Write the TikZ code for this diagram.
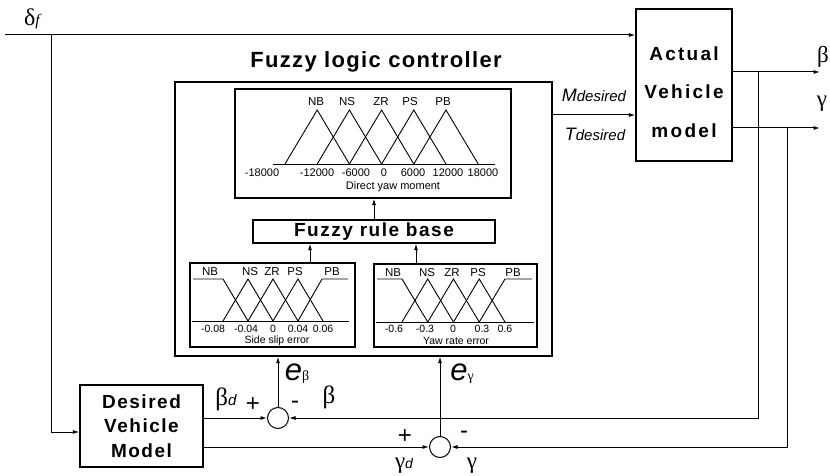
\documentclass[tikz,border=0pt]{standalone}
\usepackage{fontspec}
\setmainfont{Liberation Sans}
\newfontfamily\grk{Liberation Serif}
\usetikzlibrary{arrows.meta}
\newcommand\myfs[1]{\fontsize{#1}{#1}\selectfont}
\begin{document}
\begin{tikzpicture}[x=1pt,y=-1pt,
  arr/.style={line width=1pt,-{Latex[length=6.5pt,width=4pt]}},
  blk/.style={draw,line width=1.3pt,inner sep=0pt},
  mf/.style={line width=0.9pt},
  sum/.style={draw,circle,line width=1pt,minimum size=21pt,inner sep=0pt},
  tx/.style={inner sep=0pt},
  mfl/.style={inner sep=0pt,font=\myfs{11.5}},
  tick/.style={inner sep=0pt,font=\myfs{11}},
  stick/.style={inner sep=0pt,font=\myfs{10.5}},
]
\useasboundingbox (0,0) rectangle (830,476);

% ---------- blocks ----------
\node[blk,minimum width=377pt,minimum height=274pt] (flc) at (363.5,219) {};
\node[tx,font={\myfs{22}\addfontfeatures{LetterSpace=6}\bfseries}] (ttl) at (376,62) {Fuzzy logic controller};
\node[blk,minimum width=276pt,minimum height=109pt] (tmf) at (373,143.5) {};
\node[blk,minimum width=242pt,minimum height=23pt,font={\myfs{19}\addfontfeatures{LetterSpace=8}\bfseries}] (rb) at (374,231.5) {Fuzzy rule base};
\node[blk,minimum width=165pt,minimum height=84pt] (lmf) at (272.5,305) {};
\node[blk,minimum width=163pt,minimum height=83pt] (rmf) at (455.5,305.5) {};
\node[blk,minimum width=123pt,minimum height=82pt,align=center,
      font={\fontsize{19}{24.5}\selectfont\addfontfeatures{LetterSpace=8}\bfseries}] (dvm) at (141.5,426) {Desired\\Vehicle\\Model};
\node[blk,minimum width=96pt,minimum height=152pt] (avm) at (684,85) {};
\node[tx,align=center,font={\fontsize{19}{38.5}\selectfont\addfontfeatures{LetterSpace=12}\bfseries}] (avmt) at (684,92) {Actual\\Vehicle\\model};
\node[sum] (s1) at (278,418) {};
\node[sum] (s2) at (440,447) {};

% ---------- top membership functions ----------
\draw[mf] (273,164) -- (495,164);
\foreach \k in {0,...,4}
  \draw[mf] ({285+32.2*\k},164) -- ({317.2+32.2*\k},110) -- ({349.4+32.2*\k},164);
\foreach \t/\x [count=\i] in {NB/316,NS/347,ZR/381,PS/410,PB/443}
  \node[mfl] (ta\i) at (\x,102) {\t};
\foreach \t/\x [count=\i] in {-18000/262,-12000/317,-6000/356,0/384,6000/413,12000/448,18000/483}
  \node[tick] (tt\i) at (\x,173) {\t};
\node[tick] (dym) at (393,187) {Direct yaw moment};

% ---------- side slip membership functions ----------
\draw[mf] (192,321) -- (349,321);
\draw[mf] (193,279) -- (223,279) -- (248,321);
\foreach \k in {0,1,2}
  \draw[mf] ({223+25*\k},321) -- ({248+25*\k},279) -- ({273+25*\k},321);
\draw[mf] (298,321) -- (322,279) -- (348,279);
\foreach \t/\x [count=\i] in {NB/210,NS/250,ZR/272,PS/295,PB/332}
  \node[mfl] (la\i) at (\x,272) {\t};
\foreach \t/\x [count=\i] in {-0.08/213,-0.04/246,0/273,0.04/298,0.06/323}
  \node[stick] (lt\i) at (\x,328.5) {\t};
\node[stick] (sse) at (277,340.5) {Side slip error};

% ---------- yaw rate membership functions ----------
\draw[mf] (376,322) -- (534,322);
\draw[mf] (377,279) -- (402,279) -- (427.75,322);
\draw[mf] (402,322) -- (427.75,279) -- (453.5,322);
\draw[mf] (427.75,322) -- (453.5,279) -- (479.25,322);
\draw[mf] (453.5,322) -- (479.25,279) -- (505,322);
\draw[mf] (479.25,322) -- (505,279) -- (532,279);
\foreach \t/\x [count=\i] in {NB/393,NS/427,ZR/452,PS/478,PB/513}
  \node[mfl] (ra\i) at (\x,273) {\t};
\foreach \t/\x [count=\i] in {-0.6/394,-0.3/425,0/453,0.3/482,0.6/505}
  \node[stick] (rt\i) at (\x,329) {\t};
\node[stick] (yre) at (456,341) {Yaw rate error};

% ---------- arrows inside controller ----------
\draw[arr] ([xshift=37.5pt]lmf.north) coordinate (a1) -- (a1 |- rb.south);
\draw[arr] ([xshift=-39.5pt]rmf.north) coordinate (a2) -- (a2 |- rb.south);
\draw[arr] (rb.north) -- (rb.north |- tmf.south);

% ---------- signal lines ----------
\coordinate (din) at (5,35);
\coordinate (j1) at (51,35);
\coordinate (mt) at (594,115);
\coordinate (bo) at (820,72);
\coordinate (go) at (820,128);
\coordinate (tb) at (758,72);
\coordinate (tg) at (787,128);

\draw[arr] (din) -- (din -| avm.west);
\draw[arr] (j1) |- ([yshift=-6pt]dvm.west);
\draw[arr] (s1.west -| dvm.east) -- (s1.west);
\draw[arr] (s2.west -| dvm.east) -- (s2.west);
\draw[arr] (mt -| flc.east) -- (mt -| avm.west);
\draw[arr] (bo -| avm.east) -- (bo);
\draw[arr] (go -| avm.east) -- (go);
\draw[arr] (tb) |- (s1.east);
\draw[arr] (tg) |- (s2.east);
\draw[arr] (s1.north) -- (s1.north |- flc.south);
\draw[arr] (s2.north) -- (s2.north |- flc.south);

% ---------- labels ----------
\node[tx] (ldf) at (32,19) {{\grk\myfs{24}δ}{\grk\itshape\myfs{16}f}};
\node[tx] (lm) at (594,95) {{\itshape\myfs{18}M}{\itshape\myfs{15}desired}};
\node[tx] (lt) at (595,134) {{\itshape\myfs{18}T}{\itshape\myfs{15}desired}};
\node[tx] (lbo) at (823,57) {\grk\myfs{23}β};
\node[tx] (lgo) at (822,104) {\grk\myfs{23}γ};
\node[tx] (lbd) at (226,399) {{\grk\myfs{25}β}{\itshape\myfs{15}d}};
\node[tx,font=\myfs{24}] (p1) at (253,405) {+};
\node[tx,font=\myfs{24}] (m1) at (295,405) {-};
\node[tx] (lb) at (329,397) {\grk\myfs{25}β};
\node[tx] (leb) at (297,374) {{\itshape\myfs{31}e}{\grk\myfs{14}β}};
\node[tx] (leg) at (462,374) {{\itshape\myfs{31}e}{\grk\myfs{14}γ}};
\node[tx,font=\myfs{24}] (p2) at (405,437) {+};
\node[tx,font=\myfs{24}] (m2) at (464,435) {-};
\node[tx] (lgd) at (404,466) {{\grk\myfs{23}γ}{\itshape\myfs{14}d}};
\node[tx] (lg) at (472,466) {\grk\myfs{23}γ};
\end{tikzpicture}
\end{document}
